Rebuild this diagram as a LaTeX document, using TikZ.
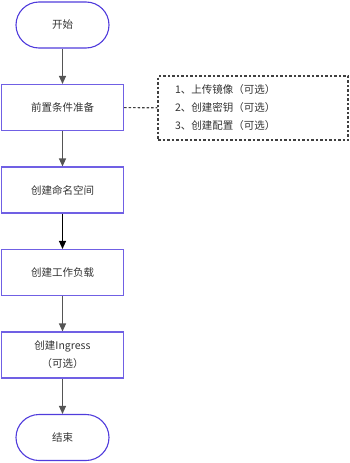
\documentclass[tikz,border=0pt]{standalone}
\usepackage{fontspec}
\setmainfont{Noto Sans CJK SC}
\usetikzlibrary{arrows.meta}
\definecolor{flowblue}{RGB}{112,96,228}
\definecolor{termblue}{RGB}{80,60,220}
\definecolor{arrowgray}{RGB}{85,85,85}
\begin{document}
\begin{tikzpicture}[x=1pt,y=-1pt,
  font=\fontsize{10.5}{18}\selectfont,
  stepbox/.style={draw=flowblue,line width=1.1pt,minimum width=122pt,minimum height=46pt,align=center,text=black!80},
  termbox/.style={draw=termblue,line width=1.1pt,rounded corners=23pt,minimum width=93pt,minimum height=46pt,text=black!80},
  notebox/.style={draw=black!75,line width=1.1pt,dash pattern=on 2.5pt off 2pt,minimum width=190pt,minimum height=64pt,text width=156pt,inner xsep=17pt,align=left,text=black!80},
  flow/.style={-{Triangle[length=8pt,width=7pt]},line width=1.2pt,draw=arrowgray}]
\useasboundingbox (0,0) rectangle (350,463);
\node[termbox] (start) at (62.5,25) {开始};
\node[stepbox] (prep) at (62.5,107.5) {前置条件准备};
\node[stepbox] (ns) at (62.5,190) {创建命名空间};
\node[stepbox] (load) at (62.5,272.5) {创建工作负载};
\node[stepbox] (ingress) at (62.5,355) {创建Ingress\\（可选）};
\node[termbox] (stop) at (62.5,437.5) {结束};
\node[notebox] (note) at (253,108) {1、上传镜像（可选）\\2、创建密钥（可选）\\3、创建配置（可选）};
\draw[flow] (start) -- (prep);
\draw[flow] (prep) -- (ns);
\draw[flow,draw=black] (ns) -- (load);
\draw[flow] (load) -- (ingress);
\draw[flow] (ingress) -- (stop);
\draw[black!75,line width=1.1pt,dash pattern=on 2.5pt off 2pt] (prep) -- (note);
\end{tikzpicture}
\end{document}
